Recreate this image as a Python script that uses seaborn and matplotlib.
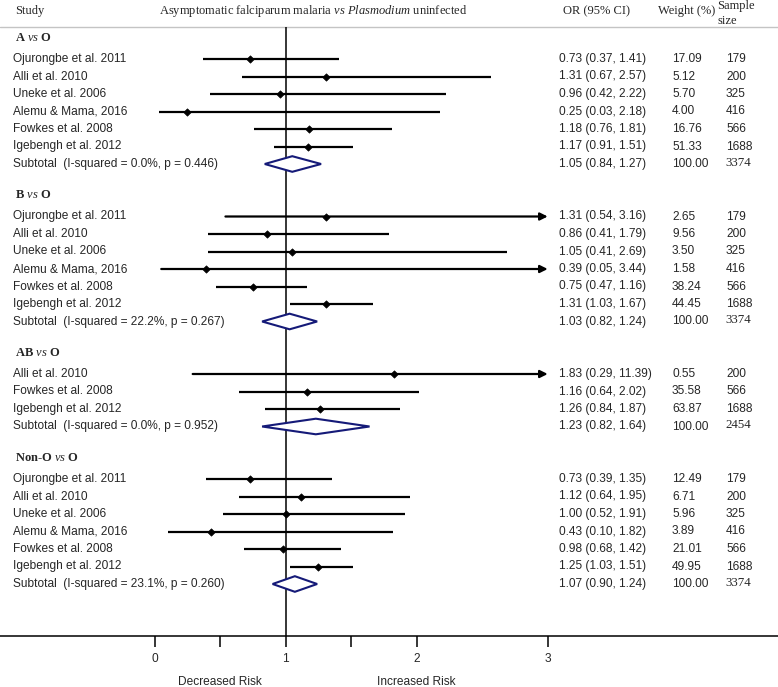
import matplotlib
matplotlib.use("Agg")
import matplotlib.pyplot as plt
from matplotlib.patches import Polygon
import seaborn as sns
import pandas as pd

# ---------------- data ----------------
group_labels = ["A", "B", "AB", "Non-O"]

studies_A = ["Ojurongbe et al. 2011", "Alli et al. 2010", "Uneke et al. 2006",
             "Alemu & Mama, 2016", "Fowkes et al. 2008", "Igebengh et al. 2012"]
or_A = [0.73, 1.31, 0.96, 0.25, 1.18, 1.17]
lo_A = [0.37, 0.67, 0.42, 0.03, 0.76, 0.91]
hi_A = [1.41, 2.57, 2.22, 2.18, 1.81, 1.51]
w_A = [17.09, 5.12, 5.70, 4.00, 16.76, 51.33]
n_A = [179, 200, 325, 416, 566, 1688]
sub_A = [1.05, 0.84, 1.27]
isq_A, p_A, ntot_A = "0.0%", "0.446", 3374

studies_B = ["Ojurongbe et al. 2011", "Alli et al. 2010", "Uneke et al. 2006",
             "Alemu & Mama, 2016", "Fowkes et al. 2008", "Igebengh et al. 2012"]
or_B = [1.31, 0.86, 1.05, 0.39, 0.75, 1.31]
lo_B = [0.54, 0.41, 0.41, 0.05, 0.47, 1.03]
hi_B = [3.16, 1.79, 2.69, 3.44, 1.16, 1.67]
w_B = [2.65, 9.56, 3.50, 1.58, 38.24, 44.45]
n_B = [179, 200, 325, 416, 566, 1688]
sub_B = [1.03, 0.82, 1.24]
isq_B, p_B, ntot_B = "22.2%", "0.267", 3374

studies_AB = ["Alli et al. 2010", "Fowkes et al. 2008", "Igebengh et al. 2012"]
or_AB = [1.83, 1.16, 1.26]
lo_AB = [0.29, 0.64, 0.84]
hi_AB = [11.39, 2.02, 1.87]
w_AB = [0.55, 35.58, 63.87]
n_AB = [200, 566, 1688]
sub_AB = [1.23, 0.82, 1.64]
isq_AB, p_AB, ntot_AB = "0.0%", "0.952", 2454

studies_N = ["Ojurongbe et al. 2011", "Alli et al. 2010", "Uneke et al. 2006",
             "Alemu & Mama, 2016", "Fowkes et al. 2008", "Igebengh et al. 2012"]
or_N = [0.73, 1.12, 1.00, 0.43, 0.98, 1.25]
lo_N = [0.39, 0.64, 0.52, 0.10, 0.68, 1.03]
hi_N = [1.35, 1.95, 1.91, 1.82, 1.42, 1.51]
w_N = [12.49, 6.71, 5.96, 3.89, 21.01, 49.95]
n_N = [179, 200, 325, 416, 566, 1688]
sub_N = [1.07, 0.90, 1.24]
isq_N, p_N, ntot_N = "23.1%", "0.260", 3374

xticks = [0, 0.5, 1, 1.5, 2, 3]
xticklabels = ["0", "", "1", "", "2", "3"]
x_clip = 3.0

groups = [
    ("A", studies_A, or_A, lo_A, hi_A, w_A, n_A, sub_A, isq_A, p_A, ntot_A),
    ("B", studies_B, or_B, lo_B, hi_B, w_B, n_B, sub_B, isq_B, p_B, ntot_B),
    ("AB", studies_AB, or_AB, lo_AB, hi_AB, w_AB, n_AB, sub_AB, isq_AB, p_AB, ntot_AB),
    ("Non-O", studies_N, or_N, lo_N, hi_N, w_N, n_N, sub_N, isq_N, p_N, ntot_N),
]

# ---------------- style ----------------
sns.set_theme(style="white")
plt.rcParams["font.family"] = ["Liberation Sans", "DejaVu Sans"]
plt.rcParams["mathtext.fontset"] = "custom"
plt.rcParams["mathtext.rm"] = "Liberation Serif"
plt.rcParams["mathtext.it"] = "Liberation Serif:italic"
plt.rcParams["mathtext.bf"] = "Liberation Serif:bold"

W, H = 778, 687
AX_BOTTOM_PX = 636
fig = plt.figure(figsize=(W / 100, H / 100), dpi=100)
fig.patch.set_facecolor("white")
ax = fig.add_axes([0, (H - AX_BOTTOM_PX) / H, 1, AX_BOTTOM_PX / H])
ax.set_facecolor("white")

X0_PX, UNIT_PX = 154.7, 131.0


def px2x(px):
    return (px - X0_PX) / UNIT_PX


SANS = "Liberation Sans"
SERIF = "Liberation Serif"
FS = 8.6
ROW0, DY = 41.5, 17.5
HDR_OFF = -3.5

# build rows
rows = []
subs = []
headers = []
slot = 0
for (g, st, orv, lo, hi, w, n, sub, isq, p, ntot) in groups:
    headers.append((g, ROW0 + slot * DY + HDR_OFF))
    slot += 1
    for i in range(len(st)):
        rows.append(dict(study=st[i], orr=orv[i], lo=lo[i], hi=hi[i], w=w[i], n=n[i],
                         y=ROW0 + slot * DY))
        slot += 1
    subs.append(dict(orr=sub[0], lo=sub[1], hi=sub[2], isq=isq, p=p, n=ntot,
                     y=ROW0 + slot * DY))
    slot += 2
df = pd.DataFrame(rows)

# header
HDR_FS = 9.0
ax.text(px2x(15), 11, "Study", family=SERIF, fontsize=HDR_FS, va="center", ha="left")
ax.text(px2x(313), 11, r"Asymptomatic falciparum malaria $\mathit{vs}$ $\mathit{Plasmodium}$ uninfected",
        family=SERIF, fontsize=HDR_FS, va="center", ha="center")
ax.text(px2x(563), 11, "OR (95% CI)", family=SERIF, fontsize=HDR_FS, va="center", ha="left")
ax.text(px2x(658), 11, "Weight (%)", family=SERIF, fontsize=HDR_FS, va="center", ha="left")
ax.text(px2x(717), 6, "Sample", family=SERIF, fontsize=HDR_FS, va="center", ha="left")
ax.text(px2x(717), 21, "size", family=SERIF, fontsize=HDR_FS, va="center", ha="left")
ax.axhline(27, color="#c4c4c4", lw=1.0, zorder=1)

# group headers
for g, y in headers:
    ax.text(px2x(15), y, g + r" $\mathit{vs}$ O", family=SERIF, fontweight="bold",
            fontsize=HDR_FS, va="center", ha="left")

# reference line at OR = 1
ax.vlines(1, 27, AX_BOTTOM_PX, color="black", lw=1.1, zorder=2)

# confidence intervals
for _, r in df.iterrows():
    if r.hi > x_clip:
        ax.annotate("", xy=(x_clip, r.y), xytext=(r.lo, r.y),
                    arrowprops=dict(arrowstyle="-|>", color="black", lw=1.6,
                                    mutation_scale=11, shrinkA=0, shrinkB=0),
                    zorder=3)
    else:
        ax.hlines(r.y, r.lo, r.hi, color="black", lw=1.6, zorder=3)

# point estimates
sns.scatterplot(data=df, x="orr", y="y", marker="D", color="black", s=14,
                edgecolor="black", linewidth=0.5, ax=ax, legend=False, zorder=4)

# pooled diamonds
for s in subs:
    poly = Polygon([(s["lo"], s["y"]), (s["orr"], s["y"] - 7.8),
                    (s["hi"], s["y"]), (s["orr"], s["y"] + 7.8)],
                   closed=True, facecolor="white", edgecolor="#151a78", lw=1.5, zorder=5)
    ax.add_patch(poly)

# text columns
for _, r in df.iterrows():
    ax.text(px2x(13), r.y, r.study, family=SANS, fontsize=FS, va="center", ha="left")
    ax.text(px2x(559), r.y, f"{r.orr:.2f} ({r.lo:.2f}, {r.hi:.2f})", family=SANS,
            fontsize=FS, va="center", ha="left")
    ax.text(px2x(672), r.y, f"{r.w:.2f}", family=SANS, fontsize=FS, va="center", ha="left")
    ax.text(px2x(726), r.y, f"{int(r.n)}", family=SANS, fontsize=FS, va="center", ha="left")
for s in subs:
    ax.text(px2x(13), s["y"], f"Subtotal  (I-squared = {s['isq']}, p = {s['p']})",
            family=SANS, fontsize=FS, va="center", ha="left")
    ax.text(px2x(559), s["y"], f"{s['orr']:.2f} ({s['lo']:.2f}, {s['hi']:.2f})",
            family=SANS, fontsize=FS, va="center", ha="left")
    ax.text(px2x(672), s["y"], "100.00", family=SANS, fontsize=FS, va="center", ha="left")
    ax.text(px2x(725), s["y"] - 1.5, f"{s['n']}", family=SERIF, fontsize=9.3,
            va="center", ha="left")

# axes
ax.set_xlim(px2x(0), px2x(W))
ax.set_ylim(AX_BOTTOM_PX, 0)
ax.set_xlabel("")
ax.set_ylabel("")
for side in ["top", "left", "right"]:
    ax.spines[side].set_visible(False)
ax.spines["bottom"].set_color("black")
ax.spines["bottom"].set_linewidth(1.1)
ax.set_yticks([])
ax.set_xticks(xticks)
ax.set_xticklabels(xticklabels, family=SANS, fontsize=FS)
ax.tick_params(axis="x", direction="out", length=8, width=1.1, pad=4.5,
               bottom=True, color="black")

ax.text(0.5, 682, "Decreased Risk", family=SANS, fontsize=FS, va="center", ha="center",
        clip_on=False)
ax.text(2.0, 682, "Increased Risk", family=SANS, fontsize=FS, va="center", ha="center",
        clip_on=False)

fig.savefig("out.png", dpi=100, facecolor="white")
